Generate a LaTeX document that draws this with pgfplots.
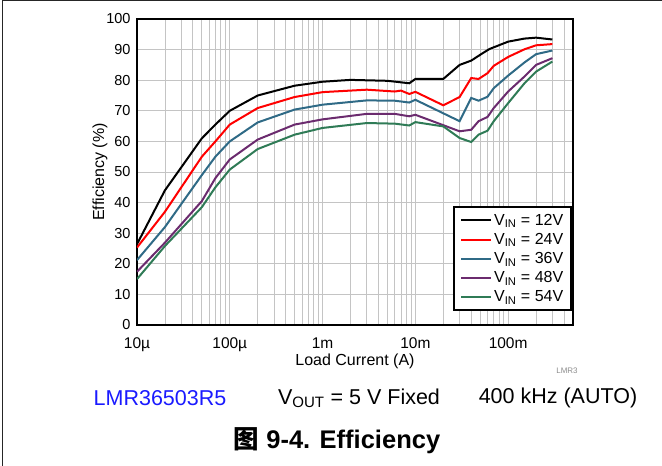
\documentclass[border=0pt]{standalone}
\usepackage{pgfplots}
\pgfplotsset{compat=1.18}
\usepackage{fontspec}
\setmainfont{Liberation Sans}
\newfontfamily\cjk{Noto Sans CJK SC}
\definecolor{cblue}{HTML}{2F6A86}
\definecolor{cpurple}{HTML}{6B2B6E}
\definecolor{cgreen}{HTML}{2F7B56}
\definecolor{gridc}{HTML}{C4C4C4}
\definecolor{tiblue}{HTML}{1A1AFF}
\begin{document}
\begin{tikzpicture}[x=1pt,y=1pt]
\path[use as bounding box] (0,0) rectangle (662,466);
\draw[line width=1pt, black!85] (2.5,0) -- (2.5,465) -- (662,465);
\begin{axis}[
  at={(137pt,141pt)}, anchor=south west,
  scale only axis, width=436pt, height=306pt,
  xmode=log, log basis x=10,
  xmin=1e-5, xmax=0.5, ymin=0, ymax=100,
  xtick={1e-5,1e-4,1e-3,1e-2,1e-1},
  xticklabels={10µ,100µ,1m,10m,100m},
  minor xtick={2e-5,3e-5,4e-5,5e-5,6e-5,7e-5,8e-5,9e-5,
               2e-4,3e-4,4e-4,5e-4,6e-4,7e-4,8e-4,9e-4,
               2e-3,3e-3,4e-3,5e-3,6e-3,7e-3,8e-3,9e-3,
               2e-2,3e-2,4e-2,5e-2,6e-2,7e-2,8e-2,9e-2,
               0.2,0.3,0.4},
  ytick={0,10,...,100},
  xmajorgrids=true, xminorgrids=true, ymajorgrids=true,
  major grid style={gridc, line width=0.8pt},
  minor grid style={gridc, line width=0.8pt},
  major tick length=0pt, minor tick length=0pt,
  axis line style={line width=1.6pt},
  /pgf/number format/assume math mode=true,
  xticklabel style={font=\fontsize{15.5}{17}\selectfont, yshift=-9pt},
  yticklabel style={font=\fontsize{14.5}{16}\selectfont, xshift=-3pt},
  xlabel={Load Current (A)}, ylabel={Efficiency (\%)},
  label style={font=\fontsize{16}{18}\selectfont},
  xlabel style={at={(axis description cs:0.5,-0.119)}, anchor=center},
  ylabel style={at={(axis description cs:-0.085,0.5)}, anchor=center},
  legend cell align=left,
  legend style={at={(1,0)}, anchor=south east, xshift=-1pt, yshift=14pt,
    draw=black, line width=1.5pt, font=\fontsize{16}{19}\selectfont,
    inner xsep=6pt, inner ysep=5pt, row sep=2.5pt},
  legend image code/.code={\draw[#1, line width=2pt] (0pt,0pt) -- (30pt,0pt);},
]
\addplot[black, line width=2pt] coordinates {
(1e-5,26.4) (2e-5,44) (5e-5,61) (7e-5,65.5) (1e-4,70) (2e-4,75) (5e-4,78.2)
(1e-3,79.5) (2e-3,80.1) (5e-3,79.8) (8.6e-3,79) (1e-2,80.4) (2e-2,80.4)
(3e-2,85) (4e-2,86.4) (5.3e-2,88.8) (6.3e-2,90.2) (1e-1,92.6) (1.5e-1,93.6)
(2e-1,93.9) (3e-1,93.3)};
\addlegendentry{V\textsubscript{IN} = 12V}
\addplot[red, line width=2pt] coordinates {
(1e-5,25.3) (2e-5,37) (5e-5,55) (7e-5,60) (1e-4,65.5) (2e-4,70.9) (5e-4,74.5)
(1e-3,76.1) (3e-3,76.9) (6e-3,76.3) (7e-3,76.6) (8.6e-3,75.5) (1e-2,76.2)
(2e-2,71.8) (3e-2,74.5) (4e-2,80.7) (4.8e-2,80.4) (6e-2,82.3) (7e-2,84.7)
(1e-1,87.6) (1.5e-1,90.1) (2e-1,91.4) (3e-1,91.8)};
\addlegendentry{V\textsubscript{IN} = 24V}
\addplot[cblue, line width=2pt] coordinates {
(1e-5,21.2) (2e-5,32) (5e-5,49) (7e-5,55) (1e-4,60) (2e-4,66.2) (5e-4,70.4)
(1e-3,72) (3e-3,73.4) (6e-3,73.3) (8.6e-3,72.7) (1e-2,73.6) (3e-2,66.6)
(4e-2,74.2) (4.8e-2,73.3) (6e-2,74.6) (7e-2,77.4) (1e-1,81.5) (1.5e-1,85.8)
(2e-1,88.5) (3e-1,89.7)};
\addlegendentry{V\textsubscript{IN} = 36V}
\addplot[cpurple, line width=2pt] coordinates {
(1e-5,17.4) (2e-5,26.9) (5e-5,40.5) (7e-5,48) (1e-4,54.1) (2e-4,60.6) (5e-4,65.5)
(1e-3,67.2) (3e-3,69) (6e-3,69) (8.6e-3,68.2) (1e-2,68.7) (3e-2,63.3)
(4e-2,63.8) (4.8e-2,66.6) (6e-2,68) (7e-2,70.9) (1e-1,76.3) (1.5e-1,81.2)
(2e-1,85) (3e-1,87.2)};
\addlegendentry{V\textsubscript{IN} = 48V}
\addplot[cgreen, line width=2pt] coordinates {
(1e-5,15) (2e-5,25.8) (5e-5,38.5) (7e-5,45) (1e-4,50.8) (2e-4,57.5) (5e-4,62.2)
(1e-3,64.4) (3e-3,66) (6e-3,65.8) (8.6e-3,65.2) (1e-2,66.3) (2e-2,64.9)
(3e-2,61.1) (4e-2,59.8) (4.8e-2,62.2) (6e-2,63.5) (7e-2,66.6) (1e-1,72.5)
(1.5e-1,79) (2e-1,82.8) (3e-1,86.1)};
\addlegendentry{V\textsubscript{IN} = 54V}
\end{axis}
\node[font=\fontsize{8}{9}\selectfont, text=black!45] at (567,95) {LMR3};
\node[font=\fontsize{21.5}{24}\selectfont, text=tiblue] at (160,68) {LMR36503R5};
\node[font=\fontsize{21.5}{24}\selectfont] at (359,68) {V\textsubscript{OUT} = 5 V Fixed};
\node[font=\fontsize{21.5}{24}\selectfont] at (558,68) {400 kHz (AUTO)};
\node[font=\bfseries\fontsize{25.5}{28}\selectfont] at (337,25) {{\cjk 图} 9-4. Efficiency};
\end{tikzpicture}
\end{document}
